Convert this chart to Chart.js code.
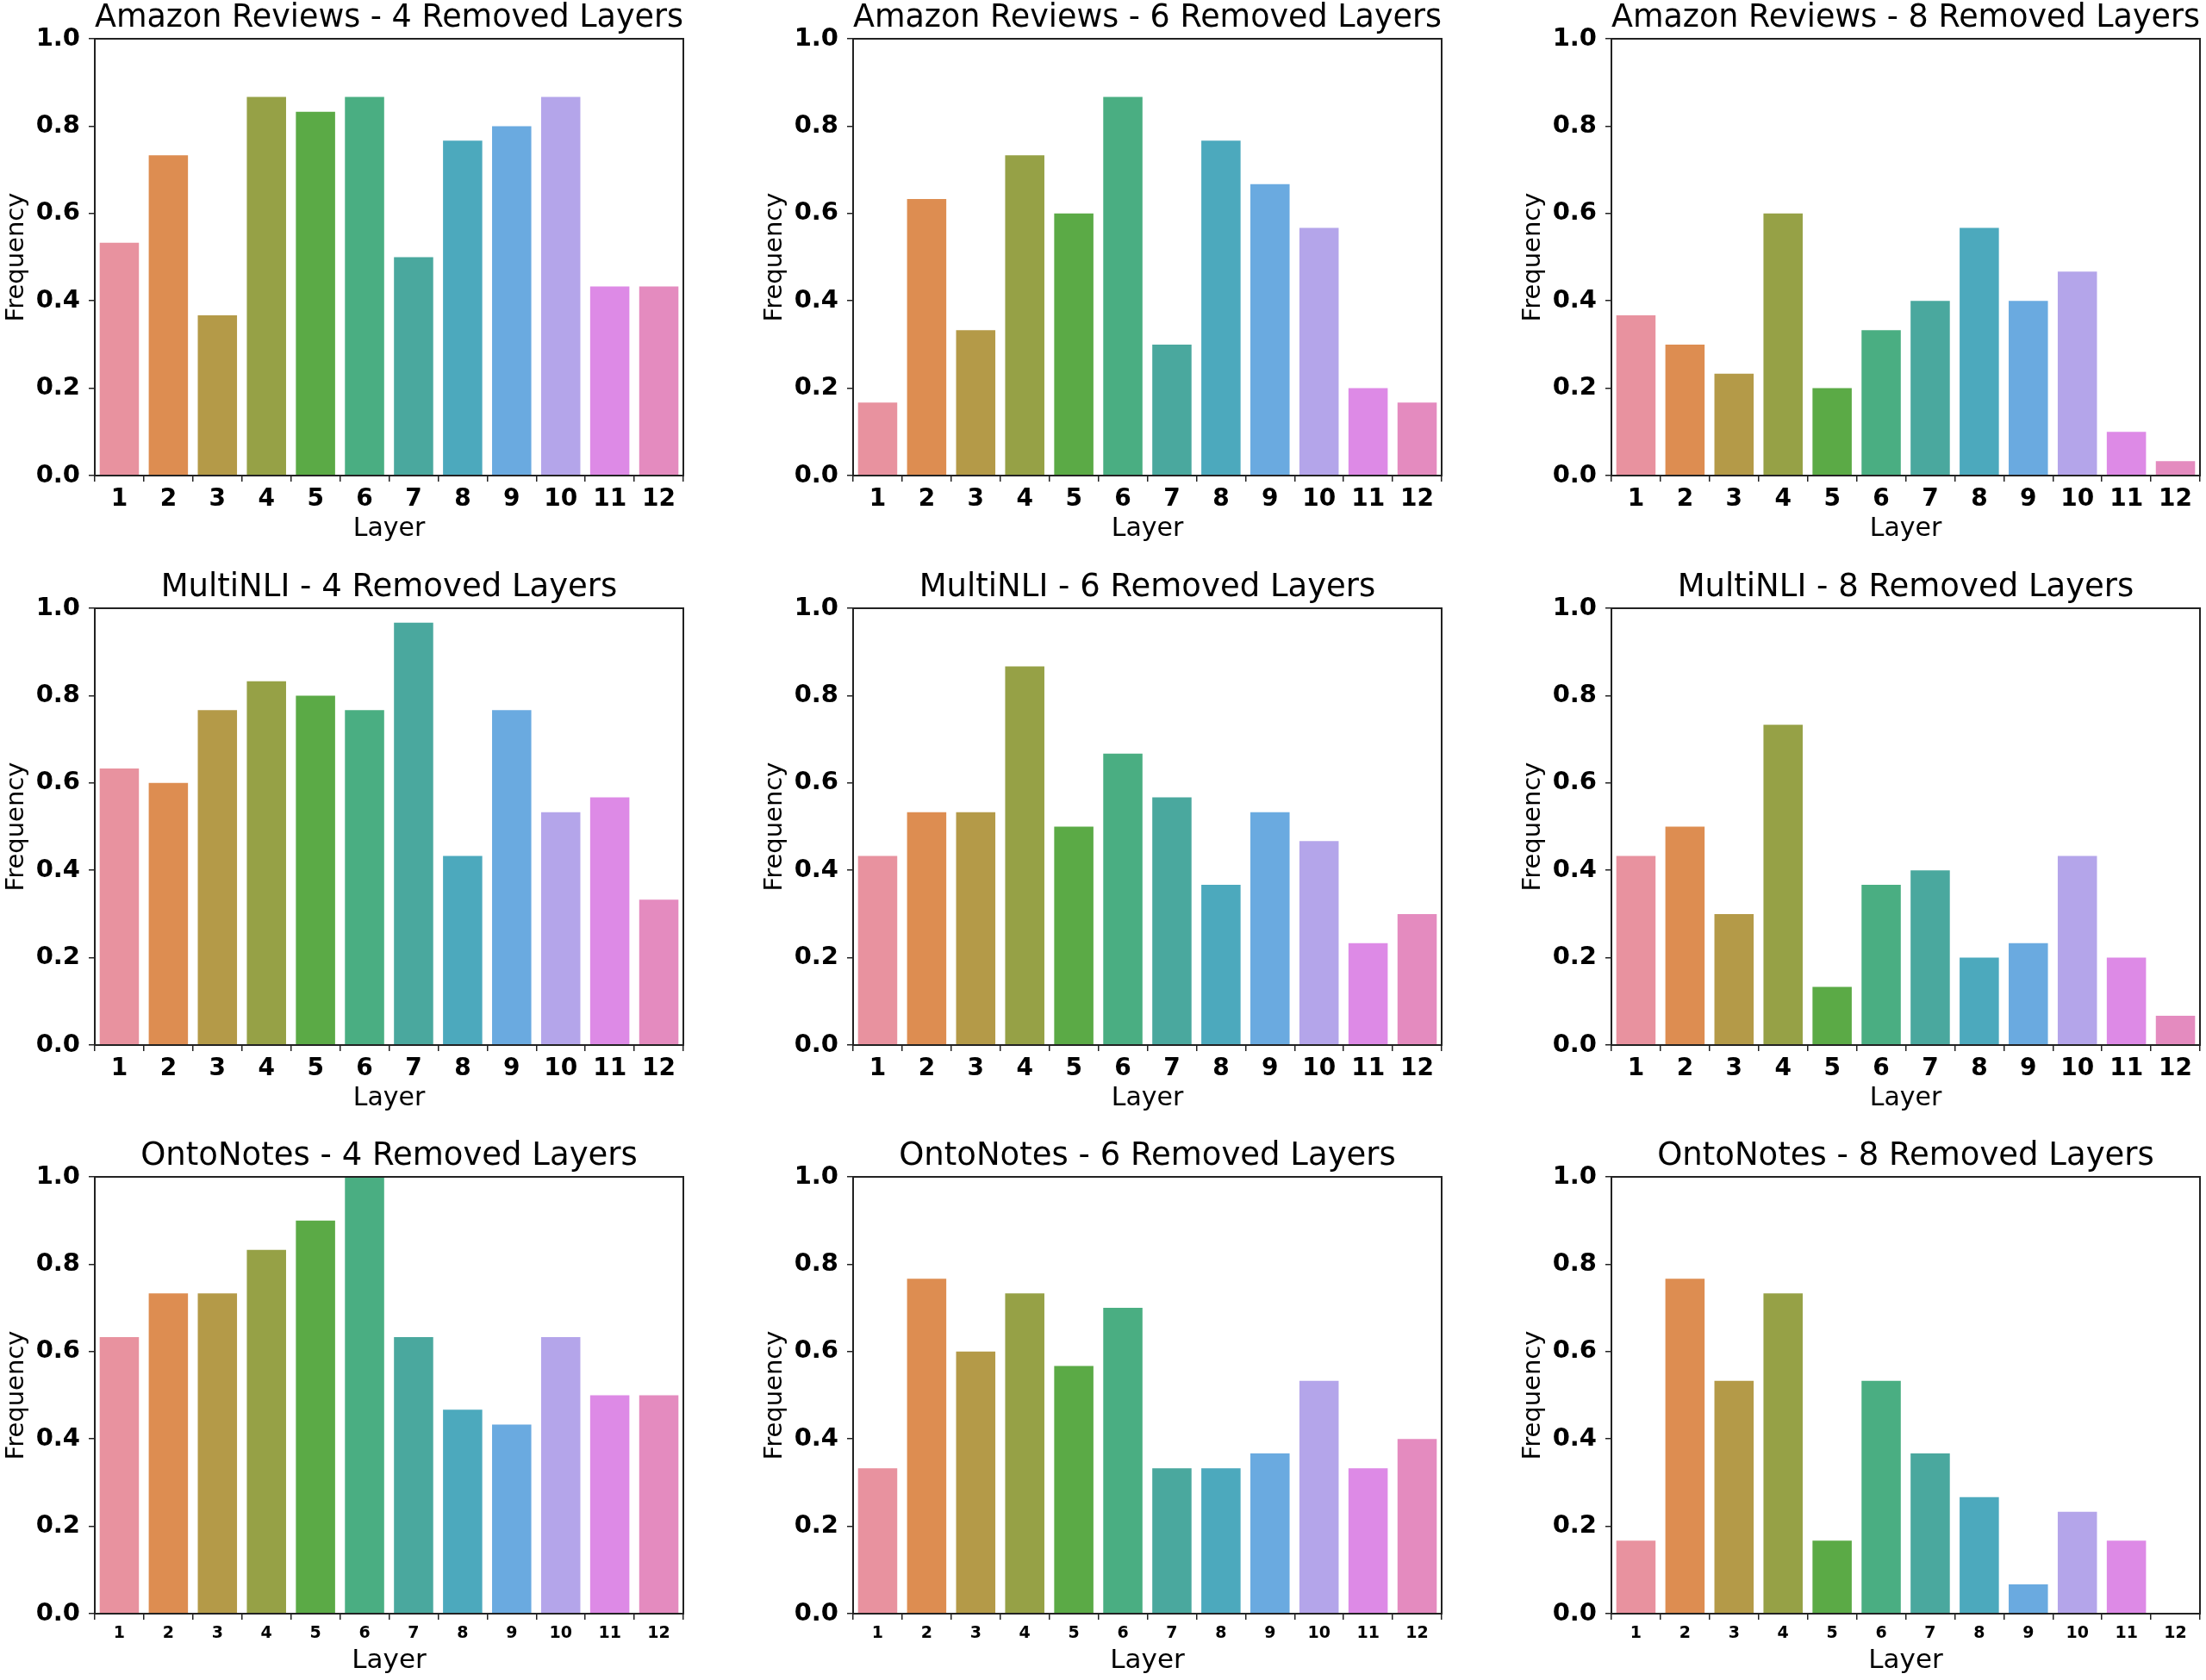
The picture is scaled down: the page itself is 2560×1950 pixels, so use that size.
<!DOCTYPE html>
<html>
<head>
<meta charset="utf-8">
<script src="https://cdn.jsdelivr.net/npm/chart.js@4.4.0/dist/chart.umd.min.js"></script>
<style>
html,body{margin:0;padding:0;background:#fff;width:2560px;height:1950px;overflow:hidden;position:relative}
canvas{position:absolute}
</style>
</head>
<body>
<script>
// ---------- data ----------
const layers = ['1','2','3','4','5','6','7','8','9','10','11','12'];
const yTickValues = [0.0, 0.2, 0.4, 0.6, 0.8, 1.0];

const amazon4   = [0.533, 0.733, 0.367, 0.867, 0.833, 0.867, 0.500, 0.767, 0.800, 0.867, 0.433, 0.433];
const amazon6   = [0.167, 0.633, 0.333, 0.733, 0.600, 0.867, 0.300, 0.767, 0.667, 0.567, 0.200, 0.167];
const amazon8   = [0.367, 0.300, 0.233, 0.600, 0.200, 0.333, 0.400, 0.567, 0.400, 0.467, 0.100, 0.033];
const multinli4 = [0.633, 0.600, 0.767, 0.833, 0.800, 0.767, 0.967, 0.433, 0.767, 0.533, 0.567, 0.333];
const multinli6 = [0.433, 0.533, 0.533, 0.867, 0.500, 0.667, 0.567, 0.367, 0.533, 0.467, 0.233, 0.300];
const multinli8 = [0.433, 0.500, 0.300, 0.733, 0.133, 0.367, 0.400, 0.200, 0.233, 0.433, 0.200, 0.067];
const onto4     = [0.633, 0.733, 0.733, 0.833, 0.900, 1.000, 0.633, 0.467, 0.433, 0.633, 0.500, 0.500];
const onto6     = [0.333, 0.767, 0.600, 0.733, 0.567, 0.700, 0.333, 0.333, 0.367, 0.533, 0.333, 0.400];
const onto8     = [0.167, 0.767, 0.533, 0.733, 0.167, 0.533, 0.367, 0.267, 0.067, 0.233, 0.167, 0.000];

const titles = [
  'Amazon Reviews - 4 Removed Layers', 'Amazon Reviews - 6 Removed Layers', 'Amazon Reviews - 8 Removed Layers',
  'MultiNLI - 4 Removed Layers', 'MultiNLI - 6 Removed Layers', 'MultiNLI - 8 Removed Layers',
  'OntoNotes - 4 Removed Layers', 'OntoNotes - 6 Removed Layers', 'OntoNotes - 8 Removed Layers'
];
const seriesList = [amazon4, amazon6, amazon8, multinli4, multinli6, multinli8, onto4, onto6, onto8];

const palette = ['#E8929F','#DD8D51','#B49A48','#96A146','#5BAA46','#4AAE82',
                 '#4AA89E','#4CA9BD','#6AAAE0','#B4A5EA','#DD8AE6','#E48BBF'];

// ---------- layout ----------
const plotLeft = [110, 990, 1870];
const plotTop  = [45, 706, 1366];
const plotW = 683, plotH = 507;
const yAxisW = 110;
const titleBlock = 48;
const titleLine = 37 * 1.2;
const xAxisH = [77, 77, 80];
const FONT = "'DejaVu Sans', sans-serif";

const framePlugin = {
  id: 'frame',
  afterDatasetsDraw(chart) {
    const {ctx, chartArea: {left, top, right, bottom}} = chart;
    ctx.save();
    ctx.strokeStyle = '#222';
    ctx.lineWidth = 2;
    ctx.strokeRect(left, top, right - left, bottom - top);
    ctx.restore();
  }
};

seriesList.forEach((vals, i) => {
  const row = Math.floor(i / 3), col = i % 3;
  const small = row === 2;
  const cv = document.createElement('canvas');
  const W = yAxisW + plotW + 4;
  const H = titleBlock + plotH + xAxisH[row];
  cv.width = W; cv.height = H;
  cv.style.left = (plotLeft[col] - yAxisW) + 'px';
  cv.style.top = (plotTop[row] - titleBlock) + 'px';
  cv.style.width = W + 'px'; cv.style.height = H + 'px';
  document.body.appendChild(cv);

  new Chart(cv, {
    type: 'bar',
    data: {
      labels: layers,
      datasets: [{
        data: vals,
        backgroundColor: palette,
        borderWidth: 0,
        categoryPercentage: 1.0,
        barPercentage: 0.8
      }]
    },
    options: {
      responsive: false,
      animation: false,
      devicePixelRatio: 1,
      layout: { padding: { left: 0, right: 4, top: 0, bottom: 0 } },
      plugins: {
        legend: { display: false },
        tooltip: { enabled: false },
        title: {
          display: true,
          fullSize: false,
          text: titles[i],
          color: '#000',
          font: { family: FONT, size: 37, weight: 'normal', lineHeight: 1.2 },
          padding: { top: 2, bottom: titleBlock - titleLine - 2 }
        }
      },
      scales: {
        x: {
          type: 'category',
          offset: true,
          grid: { display: true, drawOnChartArea: false, drawTicks: true, tickLength: 7, color: '#222', lineWidth: 1.5 },
          border: { display: true, color: '#222', width: 2 },
          ticks: {
            color: '#000',
            padding: 7,
            font: { family: FONT, size: small ? 19 : 28, weight: 'bold', lineHeight: 1 },
            maxRotation: 0, autoSkip: false
          },
          title: {
            display: true, text: 'Layer', color: '#000',
            font: { family: FONT, size: small ? 31 : 30, weight: 'normal', lineHeight: 1 },
            padding: { top: 0, bottom: small ? 10 : 0 }
          },
          afterFit(scale) { scale.height = xAxisH[row]; }
        },
        y: {
          min: 0, max: 1,
          afterBuildTicks(scale) { scale.ticks = yTickValues.map(v => ({ value: v })); },
          grid: { display: true, drawOnChartArea: false, drawTicks: true, tickLength: 7, color: '#222', lineWidth: 1.5 },
          border: { display: true, color: '#222', width: 2 },
          ticks: {
            color: '#000', padding: 10,
            font: { family: FONT, size: 29, weight: 'bold', lineHeight: 1 },
            callback: v => Number(v).toFixed(1)
          },
          title: {
            display: true, text: 'Frequency', color: '#000',
            font: { family: FONT, size: 29, weight: 'normal', lineHeight: 1 },
            padding: { top: 5, bottom: 0 }
          },
          afterFit(scale) { scale.width = yAxisW; }
        }
      }
    },
    plugins: [framePlugin]
  });
});
</script>
</body>
</html>
